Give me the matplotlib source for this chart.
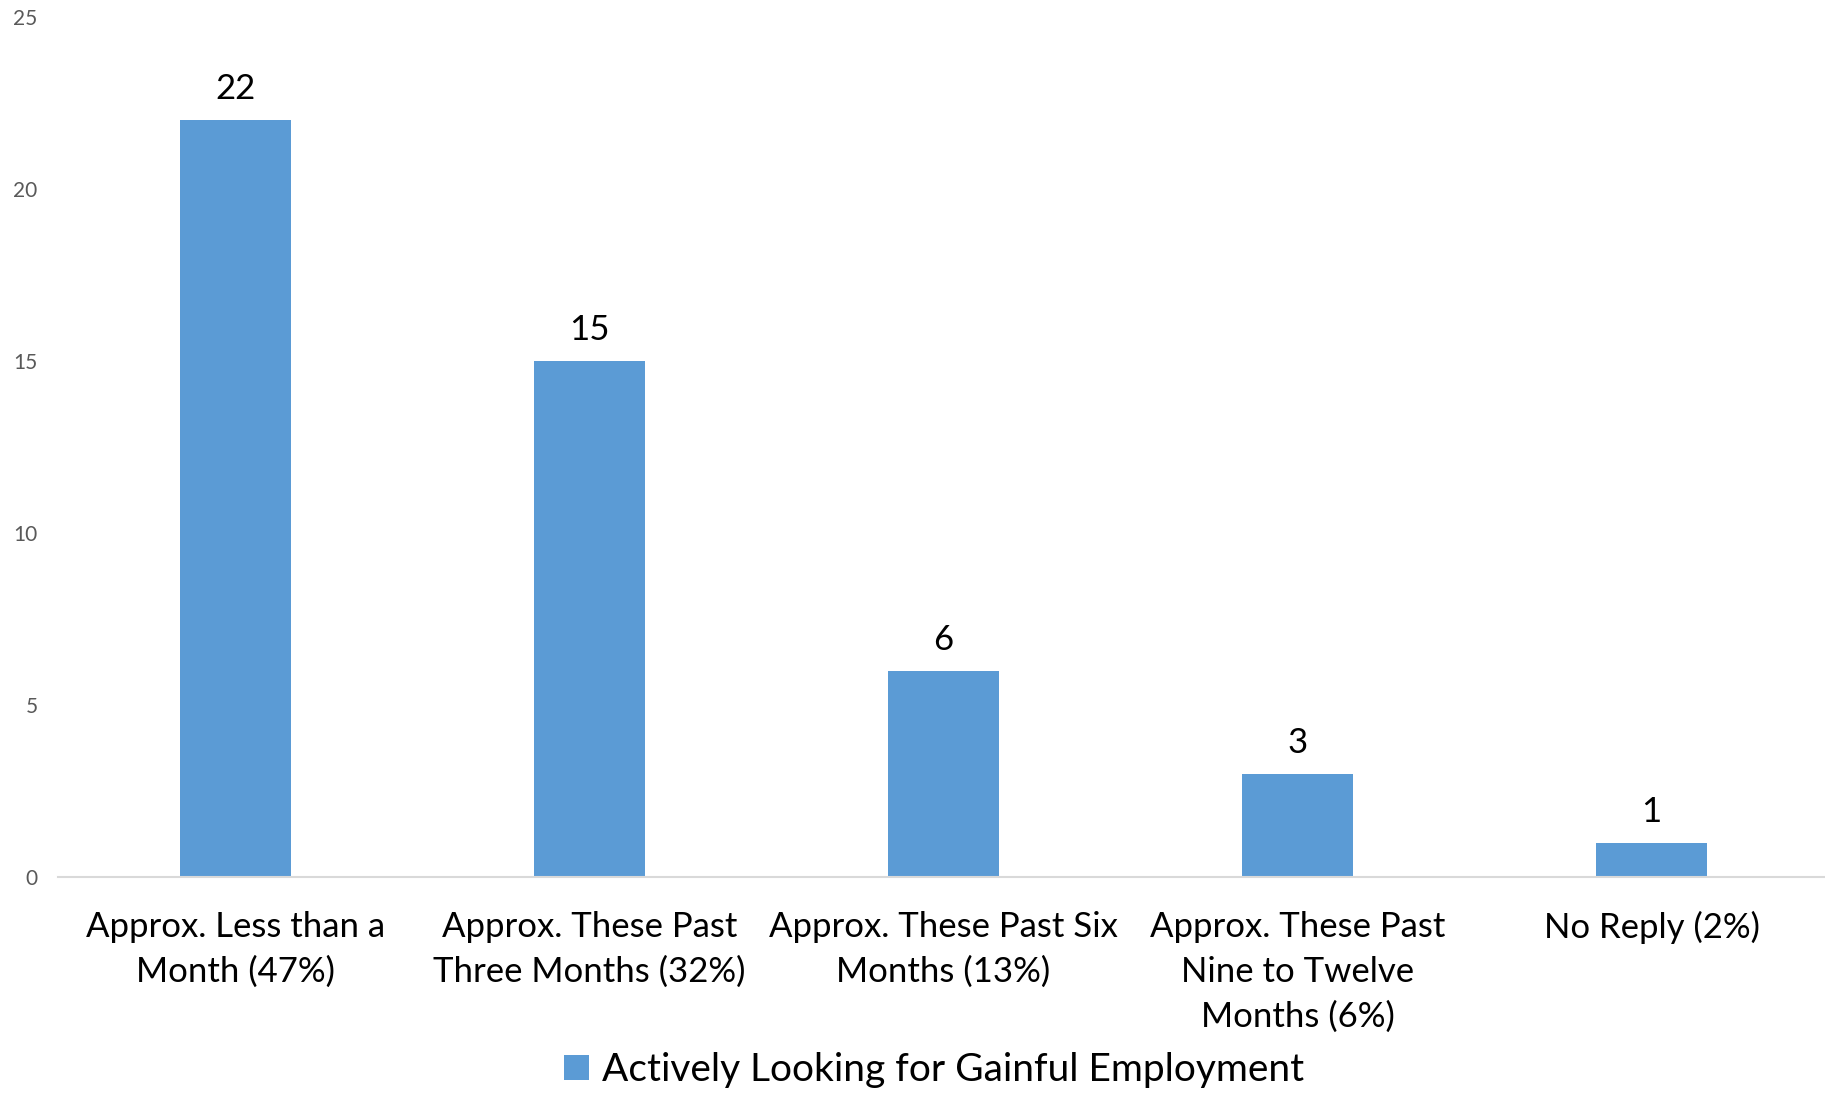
import matplotlib
matplotlib.use("Agg")
import matplotlib.pyplot as plt
from matplotlib.patches import Patch

categories = [
    "Approx. Less than a\nMonth (47%)",
    "Approx. These Past\nThree Months (32%)",
    "Approx. These Past Six\nMonths (13%)",
    "Approx. These Past\nNine to Twelve\nMonths (6%)",
    "No Reply (2%)",
]
values = [22, 15, 6, 3, 1]
series_name = "Actively Looking for Gainful Employment"
yticks = [0, 5, 10, 15, 20, 25]

plt.rcParams['font.family'] = ['Lato', 'DejaVu Sans']
bar_color = "#5B9BD5"

fig = plt.figure(figsize=(18.25, 10.94), dpi=100)
ax = fig.add_axes([0.032, 0.198, 0.970, 0.7865])

x = list(range(len(categories)))
bars = ax.bar(x, values, width=0.314, color=bar_color, zorder=2)
ax.set_xlim(-0.5, 4.5)
ax.set_ylim(0, 25)
ax.set_yticks(yticks)
ax.set_yticklabels([str(v) for v in yticks], fontsize=15, color="#595959")
ax.set_xticks(x)
ax.set_xticklabels(categories, fontsize=25, color="black", linespacing=1.5, va="top")
ax.tick_params(axis='y', length=0, pad=15)
ax.tick_params(axis='x', length=0, pad=24)
for s in ["top", "right", "left"]:
    ax.spines[s].set_visible(False)
ax.spines["bottom"].set_color("#D9D9D9")
ax.spines["bottom"].set_linewidth(1.5)

for b, v in zip(bars, values):
    ax.annotate(str(v), (b.get_x() + b.get_width() / 2, v), xytext=(0, 11),
                textcoords="offset points", ha="center", va="bottom", fontsize=25)

handle = Patch(facecolor=bar_color, edgecolor="none")
fig.legend([handle], [series_name], loc="center", bbox_to_anchor=(0.512, 0.022),
           frameon=False, fontsize=28, handlelength=0.62, handleheight=0.62,
           handletextpad=0.35)

fig.savefig("out.png", dpi=100)
